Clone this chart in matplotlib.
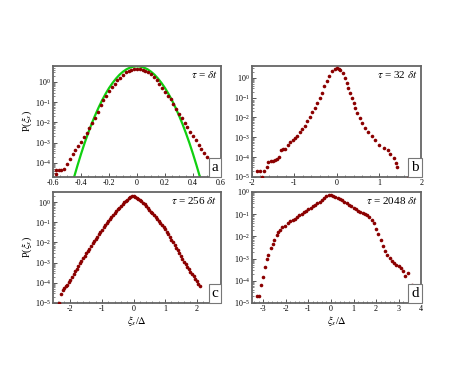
import matplotlib
matplotlib.use("Agg")
import matplotlib.pyplot as plt
from matplotlib.ticker import LogLocator, AutoMinorLocator, NullFormatter
import numpy as np

plt.rcParams['font.family'] = ['Liberation Serif', 'DejaVu Serif']
plt.rcParams['mathtext.fontset'] = 'stix'

# panel a: tau = dt  (x = xi_s/Delta, y given as log10 P)
xa = [-0.58, -0.56, -0.54, -0.52, -0.50, -0.48, -0.46, -0.44, -0.42, -0.40,
      -0.38, -0.36, -0.34, -0.32, -0.30, -0.28, -0.26, -0.24, -0.22, -0.20,
      -0.18, -0.16, -0.14, -0.12, -0.10, -0.08, -0.06, -0.04, -0.02, 0.00,
      0.02, 0.04, 0.06, 0.08, 0.10, 0.12, 0.14, 0.16, 0.18, 0.20,
      0.22, 0.24, 0.26, 0.28, 0.30, 0.32, 0.34, 0.36, 0.38, 0.40,
      0.42, 0.44, 0.46, 0.48, 0.50, -0.58]
la = [-4.35, -4.35, -4.35, -4.30, -4.07, -3.82, -3.55, -3.35, -3.15, -2.95,
      -2.73, -2.51, -2.29, -2.05, -1.78, -1.48, -1.15, -0.90, -0.67, -0.45,
      -0.27, -0.09, 0.08, 0.22, 0.36, 0.47, 0.55, 0.61, 0.64, 0.65,
      0.64, 0.61, 0.56, 0.49, 0.38, 0.25, 0.10, -0.10, -0.30, -0.50,
      -0.68, -0.86, -1.10, -1.35, -1.58, -1.80, -2.03, -2.25, -2.47, -2.67,
      -2.88, -3.12, -3.30, -3.52, -3.70, -4.55]

# gaussian fit drawn in green in panel a
xg = [-0.45, -0.425, -0.40, -0.375, -0.35, -0.325, -0.30, -0.275, -0.25, -0.225,
      -0.20, -0.175, -0.15, -0.125, -0.10, -0.075, -0.05, -0.025, 0.0,
      0.025, 0.05, 0.075, 0.10, 0.125, 0.15, 0.175, 0.20, 0.225,
      0.25, 0.275, 0.30, 0.325, 0.35, 0.375, 0.40, 0.425, 0.45]
lg = [-4.71, -4.12, -3.56, -3.03, -2.54, -2.08, -1.66, -1.27, -0.91, -0.59,
      -0.30, -0.05, 0.17, 0.36, 0.51, 0.63, 0.71, 0.76, 0.78,
      0.76, 0.71, 0.63, 0.51, 0.36, 0.17, -0.05, -0.30, -0.59,
      -0.91, -1.27, -1.66, -2.08, -2.54, -3.03, -3.56, -4.12, -4.71]

# panel b: tau = 32 dt
xb = [-1.89, -1.80, -1.71, -1.77, -1.65, -1.61, -1.55, -1.50, -1.45, -1.41,
      -1.35, -1.31, -1.26, -1.21, -1.14, -1.10, -1.04, -0.99, -0.94, -0.87,
      -0.82, -0.75, -0.70, -0.64, -0.58, -0.52, -0.46, -0.40, -0.34, -0.29,
      -0.22, -0.17, -0.10, -0.04, 0.00, 0.05, 0.09, 0.14, 0.20, 0.24,
      0.28, 0.31, 0.36, 0.40, 0.44, 0.49, 0.55, 0.61, 0.67, 0.75,
      0.83, 0.91, 1.01, 1.11, 1.21, 1.27, 1.36, 1.40, 1.43, 1.71]
lb = [-4.70, -4.70, -4.70, -4.98, -4.48, -4.26, -4.20, -4.20, -4.17, -4.10,
      -4.00, -3.64, -3.60, -3.60, -3.38, -3.22, -3.13, -3.05, -2.93, -2.76,
      -2.59, -2.42, -2.20, -2.00, -1.75, -1.53, -1.28, -1.03, -0.77, -0.44,
      -0.15, 0.10, 0.32, 0.45, 0.48, 0.45, 0.38, 0.24, -0.02, -0.27,
      -0.52, -0.77, -1.03, -1.28, -1.53, -1.78, -2.04, -2.29, -2.54, -2.76,
      -2.96, -3.13, -3.38, -3.55, -3.64, -3.85, -4.06, -4.31, -4.48, -5.00]

# panel c: tau = 256 dt
xc = [-2.35, -2.30, -2.25, -2.20, -2.15, -2.10, -2.05, -2.00, -1.95, -1.90,
      -1.85, -1.80, -1.75, -1.70, -1.65, -1.60, -1.55, -1.50, -1.45, -1.40,
      -1.35, -1.30, -1.25, -1.20, -1.15, -1.10, -1.05, -1.00, -0.95, -0.90,
      -0.85, -0.80, -0.75, -0.70, -0.65, -0.60, -0.55, -0.50, -0.45, -0.40,
      -0.35, -0.30, -0.25, -0.20, -0.15, -0.10, -0.05, 0.00, 0.05, 0.10,
      0.15, 0.20, 0.25, 0.30, 0.35, 0.40, 0.45, 0.50, 0.55, 0.60,
      0.65, 0.70, 0.75, 0.80, 0.85, 0.90, 0.95, 1.00, 1.05, 1.10,
      1.15, 1.20, 1.25, 1.30, 1.35, 1.40, 1.45, 1.50, 1.55, 1.60,
      1.65, 1.70, 1.75, 1.80, 1.85, 1.90, 1.95, 2.00, 2.05, 2.10,
      2.50, 2.60]
lc = [-5.00, -4.55, -4.38, -4.25, -4.17, -4.10, -3.97, -3.85, -3.71, -3.57,
      -3.43, -3.30, -3.16, -3.03, -2.90, -2.78, -2.66, -2.54, -2.42, -2.31,
      -2.18, -2.05, -1.93, -1.82, -1.71, -1.60, -1.48, -1.37, -1.25, -1.14,
      -1.03, -0.92, -0.82, -0.72, -0.62, -0.53, -0.44, -0.35, -0.27, -0.19,
      -0.10, -0.02, 0.05, 0.12, 0.18, 0.24, 0.28, 0.30, 0.27, 0.22,
      0.17, 0.12, 0.05, -0.03, -0.11, -0.20, -0.29, -0.38, -0.47, -0.56,
      -0.65, -0.74, -0.83, -0.93, -1.03, -1.13, -1.24, -1.35, -1.47, -1.60,
      -1.73, -1.87, -2.00, -2.13, -2.27, -2.40, -2.54, -2.68, -2.81, -2.95,
      -3.08, -3.20, -3.33, -3.45, -3.57, -3.68, -3.81, -3.93, -4.04, -4.15,
      -5.00, -5.00]

# panel d: tau = 2048 dt
xd = [-3.28, -3.20, -3.12, -3.03, -2.93, -2.85, -2.78, -2.67, -2.58, -2.51,
      -2.40, -2.33, -2.25, -2.15, -2.05, -1.90, -1.80, -1.70, -1.60, -1.50,
      -1.40, -1.30, -1.20, -1.10, -1.00, -0.90, -0.80, -0.70, -0.60, -0.50,
      -0.40, -0.30, -0.20, -0.10, 0.00, 0.10, 0.20, 0.30, 0.40, 0.50,
      0.60, 0.70, 0.80, 0.90, 1.00, 1.10, 1.20, 1.30, 1.40, 1.50,
      1.60, 1.70, 1.80, 1.90, 2.00, 2.10, 2.20, 2.30, 2.40, 2.50,
      2.60, 2.70, 2.80, 2.90, 3.00, 3.10, 3.20, 3.30, 3.40, 3.60, 3.67]
ld = [-4.70, -4.70, -4.17, -3.84, -3.36, -3.00, -2.82, -2.52, -2.33, -2.15,
      -1.95, -1.82, -1.70, -1.60, -1.52, -1.40, -1.33, -1.27, -1.20, -1.12,
      -1.05, -0.99, -0.92, -0.85, -0.78, -0.72, -0.65, -0.58, -0.52, -0.45,
      -0.38, -0.29, -0.20, -0.14, -0.15, -0.18, -0.22, -0.27, -0.32, -0.38,
      -0.45, -0.52, -0.58, -0.65, -0.71, -0.78, -0.84, -0.89, -0.94, -0.99,
      -1.04, -1.14, -1.26, -1.42, -1.65, -1.90, -2.18, -2.45, -2.68, -2.84,
      -2.98, -3.10, -3.20, -3.28, -3.35, -3.44, -3.57, -3.80, -3.65, -4.20, -4.30]

taus = [r'$\tau$ = $\delta t$', r'$\tau$ = 32 $\delta t$',
        r'$\tau$ = 256 $\delta t$', r'$\tau$ = 2048 $\delta t$']
letters = ['a', 'b', 'c', 'd']
xlims = [(-0.6, 0.6), (-2, 2), (-2.55, 2.77), (-3.5, 4)]
ylims = [(2e-5, 6.3), (1e-5, 4), (1e-5, 3.2), (1e-5, 1)]
xticks = [[-0.6, -0.4, -0.2, 0, 0.2, 0.4, 0.6], [-2, -1, 0, 1, 2],
          [-2, -1, 0, 1, 2], [-3, -2, -1, 0, 1, 2, 3, 4]]
xticklabels = [['-0.6', '-0.4', '-0.2', '0', '0.2', '0.4', '0.6'],
               ['-2', '-1', '0', '1', '2'], ['-2', '-1', '0', '1', '2'],
               ['-3', '-2', '-1', '0', '1', '2', '3', '4']]
xdata = [xa, xb, xc, xd]
ldata = [la, lb, lc, ld]

fig = plt.figure(figsize=(4.5, 3.74), dpi=100)
boxes = [[0.118, 0.527, 0.373, 0.297], [0.560, 0.527, 0.376, 0.297],
         [0.118, 0.190, 0.373, 0.297], [0.560, 0.190, 0.376, 0.297]]

red = '#8b0000'
for i in range(4):
    ax = fig.add_axes(boxes[i])
    ax.set_yscale('log')
    if i == 0:
        ax.plot(xg, 10.0 ** np.array(lg), color='#10d010', lw=1.6, zorder=2)
    ax.plot(xdata[i], 10.0 ** np.array(ldata[i]), 'o', color=red, ms=2.6,
            mew=0, zorder=3, clip_on=True)
    ax.set_xlim(*xlims[i])
    ax.set_ylim(*ylims[i])
    ax.set_xticks(xticks[i])
    ax.set_xticklabels(xticklabels[i])
    ax.xaxis.set_minor_locator(AutoMinorLocator(4 if i == 0 else 5))
    ax.yaxis.set_major_locator(LogLocator(base=10, numticks=10))
    ax.yaxis.set_minor_locator(LogLocator(base=10, subs=np.arange(2, 10), numticks=10))
    ax.yaxis.set_minor_formatter(NullFormatter())
    ax.tick_params(which='both', direction='in', labelsize=5.8, pad=1.5,
                   color='#555555')
    ax.tick_params(which='major', length=3, width=0.7)
    ax.tick_params(which='minor', length=1.5, width=0.5)
    for s in ax.spines.values():
        s.set_color('#666666')
        s.set_linewidth(1.3)
    ax.text(0.98, 0.97, taus[i], transform=ax.transAxes, ha='right', va='top',
            fontsize=8)
    ax.text(0.985, 0.025, letters[i], transform=ax.transAxes, ha='right',
            va='bottom', fontsize=11,
            bbox=dict(boxstyle='square,pad=0.2', fc='white', ec='#777777', lw=0.8))
    if i in (0, 2):
        ax.set_ylabel(r'P($\xi_s$)', fontsize=7.5, labelpad=1)
    if i in (2, 3):
        ax.set_xlabel(r'$\xi_s$/$\Delta$', fontsize=7.5, labelpad=0.5)

fig.savefig('out.png', dpi=100, facecolor='white')
